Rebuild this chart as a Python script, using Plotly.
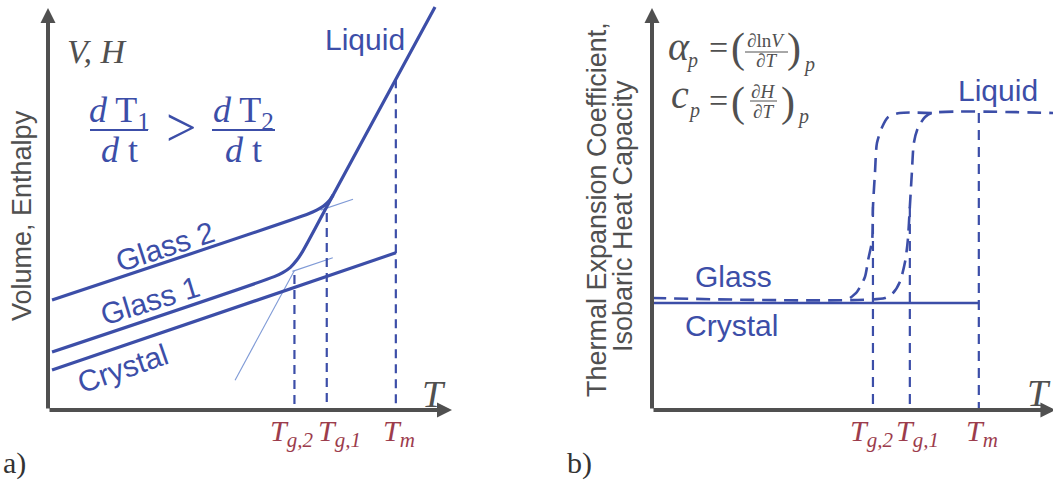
import plotly.graph_objects as go

W, H = 1053, 481

BLUE = "#3c4ea8"
THIN = "#7f9ad6"
GRAY = "#505050"
RED = "#9c3c4c"
SERIF = "Liberation Serif, Times New Roman, serif"
SANS = "Liberation Sans, Arial, sans-serif"

# ---------------- panel (a): V, H versus T (arbitrary units) ----------------
T_G2_A, T_G1_A, T_M_A = 61.0, 69.0, 86.1

crystal_a_T = [1.0, 86.1]
crystal_a_V = [9.9, 39.0]

# liquid branch, bending into Glass 1 near Tg,2
liquid_g1_T = [95.8, 86.1, 69.1, 63.0, 61.6, 60.0, 58.1, 56.0, 1.0]
liquid_g1_V = [100.0, 82.1, 50.6, 39.3, 37.2, 35.4, 34.1, 33.1, 14.4]

# Glass 2, joining the liquid near Tg,1
glass2_T = [1.0, 64.5, 66.5, 68.2, 69.6, 70.6]
glass2_V = [27.3, 48.7, 49.6, 50.6, 51.9, 53.4]

# thin construction lines (extrapolations)
liq_ext_T = [46.3, 61.0]
liq_ext_V = [7.4, 34.6]
g1_ext_T = [60.5, 70.5]
g1_ext_V = [34.4, 37.8]
g2_ext_T = [67.5, 75.5]
g2_ext_V = [49.6, 52.3]

# tops of the dashed marker lines
drop_a_T = [T_G2_A, T_G1_A, T_M_A]
drop_a_V = [33.5, 48.9, 82.1]

# ---------------- panel (b): alpha_p, c_p versus T ----------------
T_G2_B, T_G1_B, T_M_B = 55.1, 64.3, 81.5
crystal_b_level = 26.75
glass_b_level = 28.0
liquid_b_level = 74.25

crystal_b_T = [0.0, T_M_B]
crystal_b_Y = [crystal_b_level, crystal_b_level]

# slow-cooled glass: step near Tg,1, then the liquid plateau
step1_T = [0.0, 58.1, 60.1, 61.8, 63.1, 63.8, 64.3, 64.8, 65.3, 66.3, 68.1, 69.8, 100.0]
step1_Y = [28.0, 28.0, 29.25, 32.0, 37.0, 42.5, 50.75, 59.25, 66.75, 70.5, 73.25, 74.25, 74.25]

# faster branch: step near Tg,2
step2_T = [49.4, 51.1, 53.1, 53.9, 54.9, 55.1, 55.6, 56.1, 57.4, 58.9, 61.8, 70.0]
step2_Y = [28.0, 29.5, 33.25, 37.5, 42.5, 50.75, 59.25, 66.75, 70.75, 73.25, 74.25, 74.25]

drop_b_T = [T_G2_B, T_G1_B, T_M_B]
drop_b_Y = [50.75, 50.75, liquid_b_level]

fig = go.Figure()


def line(xs, ys, axes, color, width, dash="solid", shape="linear"):
    fig.add_trace(go.Scatter(
        x=xs, y=ys, mode="lines", xaxis=axes[0], yaxis=axes[1],
        line=dict(color=color, width=width, dash=dash, shape=shape, smoothing=0.7),
        hoverinfo="skip", showlegend=False))


A = ("x", "y")
B = ("x2", "y2")

# panel (a)
line(liq_ext_T, liq_ext_V, A, THIN, 1.1)
line(g1_ext_T, g1_ext_V, A, THIN, 1.1)
line(g2_ext_T, g2_ext_V, A, THIN, 1.1)
for t, v in zip(drop_a_T, drop_a_V):
    line([t, t], [v, 0], A, BLUE, 2.2, dash="9px,6px")
line(crystal_a_T, crystal_a_V, A, BLUE, 3.2)
line(liquid_g1_T, liquid_g1_V, A, BLUE, 3.2, shape="spline")
line(glass2_T, glass2_V, A, BLUE, 3.2, shape="spline")

# panel (b)
for t, v in zip(drop_b_T, drop_b_Y):
    line([t, t], [v, 0], B, BLUE, 2.2, dash="10px,7px")
line(crystal_b_T, crystal_b_Y, B, BLUE, 2.4)
line(step1_T, step1_Y, B, BLUE, 2.6, dash="14px,8px", shape="spline")
line(step2_T, step2_Y, B, BLUE, 2.6, dash="14px,8px", shape="spline")


# axis arrows
def arrow(axes, x, y):
    fig.add_annotation(x=x, y=y, ax=0, ay=0, xref=axes[0], yref=axes[1],
                       axref=axes[0], ayref=axes[1], text="", showarrow=True,
                       arrowhead=2, arrowsize=0.75, arrowwidth=4, arrowcolor=GRAY,
                       standoff=0)


arrow(A, 100.0, 0)
arrow(A, 0, 99.75)
arrow(B, 100.6, 0)
arrow(B, 0, 100.5)


def txt(s, x, y, size, color, family, angle=0, xanchor="center", yanchor="middle"):
    fig.add_annotation(text=s, x=x / W, y=1 - y / H, xref="paper", yref="paper",
                       showarrow=False, textangle=angle, xanchor=xanchor,
                       yanchor=yanchor, font=dict(size=size, color=color, family=family))


def bar(x0, x1, y, color, width):
    fig.add_shape(type="line", xref="paper", yref="paper",
                  x0=x0 / W, x1=x1 / W, y0=1 - y / H, y1=1 - y / H,
                  line=dict(color=color, width=width))


# ---- panel (a) text ----
txt("<i>V, H</i>", 97, 51, 34, GRAY, SERIF)
txt("Volume, Enthalpy", 22, 216, 27, GRAY, SANS, angle=-90)
txt("Liquid", 365, 39, 30, BLUE, SANS)
txt("Glass 2", 165, 246, 30, BLUE, SANS, angle=-18)
txt("Glass 1", 150, 300, 30, BLUE, SANS, angle=-17)
txt("Crystal", 122, 368, 30, BLUE, SANS, angle=-19)

txt("<i>d</i> T<sub>1</sub>", 119, 112, 36, BLUE, SERIF)
bar(90, 148, 130, BLUE, 2)
txt("<i>d</i> t", 119, 150, 36, BLUE, SERIF)
txt("&gt;", 181, 128, 54, BLUE, SERIF)
txt("<i>d</i> T<sub>2</sub>", 243, 112, 36, BLUE, SERIF)
bar(212, 275, 130, BLUE, 2)
txt("<i>d</i> t", 243, 150, 36, BLUE, SERIF)

txt("<i>T</i>", 434, 394, 38, GRAY, SERIF)
txt("<i>T</i><sub><i>g,2</i></sub>", 291, 433, 30, RED, SERIF)
txt("<i>T</i><sub><i>g,1</i></sub>", 339, 433, 30, RED, SERIF)
txt("<i>T</i><sub><i>m</i></sub>", 399, 433, 30, RED, SERIF)
txt("a)", 14, 463, 30, "#333333", SERIF)

# ---- panel (b) text ----
txt("Thermal Expansion Coefficient,", 597, 210, 27, GRAY, SANS, angle=-90)
txt("Isobaric Heat Capacity", 623, 216, 27, GRAY, SANS, angle=-90)
txt("Liquid", 998, 90, 30, BLUE, SANS)
txt("Glass", 733, 276, 30, BLUE, SANS)
txt("Crystal", 731, 325, 30, BLUE, SANS)
txt("<i>T</i>", 1039, 393, 38, GRAY, SERIF)
txt("<i>T</i><sub><i>g,2</i></sub>", 871, 433, 30, RED, SERIF)
txt("<i>T</i><sub><i>g,1</i></sub>", 917, 433, 30, RED, SERIF)
txt("<i>T</i><sub><i>m</i></sub>", 982, 433, 30, RED, SERIF)
txt("b)", 579, 463, 30, "#333333", SERIF)

# alpha_p = (d ln V / dT)_p
txt("<i>α</i>", 679, 46, 40, GRAY, SERIF)
txt("<i>p</i>", 692, 60, 20, GRAY, SERIF)
txt("=", 718, 47, 34, GRAY, SERIF)
txt("(", 738, 49, 42, GRAY, SERIF)
txt("∂ln<i>V</i>", 766, 40, 19, GRAY, SERIF)
bar(745, 788, 52, GRAY, 1)
txt("∂<i>T</i>", 766, 61, 19, GRAY, SERIF)
txt(")", 794, 49, 42, GRAY, SERIF)
txt("<i>p</i>", 809, 64, 20, GRAY, SERIF)

# c_p = (dH / dT)_p
txt("<i>c</i>", 680, 94, 40, GRAY, SERIF)
txt("<i>p</i>", 694, 110, 20, GRAY, SERIF)
txt("=", 718, 100, 34, GRAY, SERIF)
txt("(", 738, 102, 42, GRAY, SERIF)
txt("∂<i>H</i>", 763, 91, 19, GRAY, SERIF)
bar(750, 777, 101, GRAY, 1)
txt("∂<i>T</i>", 763, 111, 19, GRAY, SERIF)
txt(")", 788, 102, 42, GRAY, SERIF)
txt("<i>p</i>", 803, 117, 20, GRAY, SERIF)

hidden = dict(visible=False, showgrid=False, zeroline=False)
fig.update_layout(
    width=W, height=H,
    margin=dict(l=0, r=0, t=0, b=0),
    paper_bgcolor="white", plot_bgcolor="white",
    xaxis=dict(domain=[48 / W, 460 / W], range=[0, 412 / 4.04], **hidden),
    yaxis=dict(domain=[1 - 410 / H, 1 - 5 / H], range=[0, 405 / 4.03], **hidden),
    xaxis2=dict(domain=[652 / W, 1.0], range=[0, 401 / 4.01], **hidden),
    yaxis2=dict(domain=[1 - 410 / H, 1 - 6 / H], range=[0, 404 / 4.0], **hidden),
)

fig.write_html("out.html")
